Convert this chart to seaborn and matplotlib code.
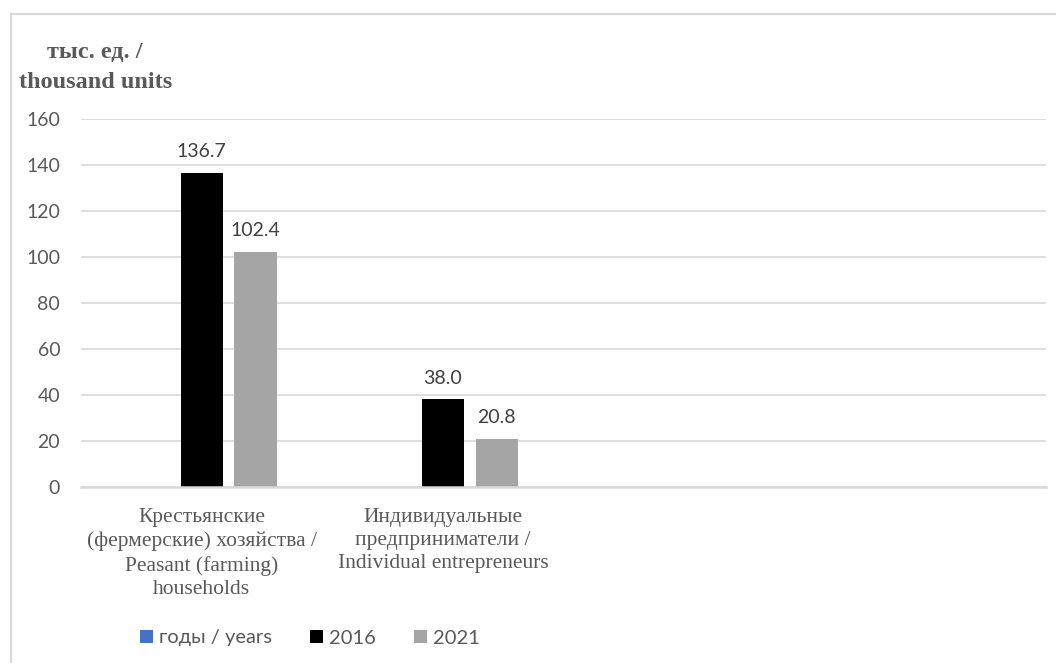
import matplotlib
matplotlib.use("Agg")
import matplotlib.pyplot as plt
import seaborn as sns
import pandas as pd
from matplotlib.lines import Line2D

# Categories (two trailing slots are left empty, as in the source workbook)
categories = [
    "Крестьянские\n(фермерские) хозяйства /\nPeasant (farming)\nhouseholds",
    "Индивидуальные\nпредприниматели /\nIndividual entrepreneurs",
    "",
    " ",
]
series = ["годы / years", "2016", "2021"]
values_years = [0.0, 0.0]
values_2016 = [136.7, 38.0]
values_2021 = [102.4, 20.8]
y_ticks = [0, 20, 40, 60, 80, 100, 120, 140, 160]
colors = ["#4472c4", "#000000", "#a5a5a5"]

filled = categories[:2]
df = pd.DataFrame({
    "category": filled * 3,
    "series": [series[0]] * 2 + [series[1]] * 2 + [series[2]] * 2,
    "value": values_years + values_2016 + values_2021,
})

sns.set_theme(style="white")
SANS = ["Lato", "Open Sans", "DejaVu Sans"]
SERIF = ["Liberation Serif", "DejaVu Serif"]
plt.rcParams["font.family"] = SANS

W, H = 1056, 663
fig = plt.figure(figsize=(W / 100, H / 100), dpi=100)
ax_left, ax_right, ax_top, ax_bottom = 81, 1046, 119.3, 486.7
ax = fig.add_axes([ax_left / W, 1 - ax_bottom / H,
                   (ax_right - ax_left) / W, (ax_bottom - ax_top) / H])

sns.barplot(data=df, x="category", y="value", hue="series",
            order=categories, hue_order=series, palette=colors,
            saturation=1, width=0.67, gap=0.22, linewidth=0,
            errorbar=None, ax=ax)

ax.set_ylim(0, 160)
ax.set_yticks(y_ticks)
ax.set_yticklabels([str(t) for t in y_ticks])
ax.set_xlabel("")
ax.set_ylabel("")
ax.yaxis.grid(True, color="#d9d9d9", linewidth=1.2)
ax.set_axisbelow(True)
for side in ("top", "right", "left"):
    ax.spines[side].set_visible(False)
ax.spines["bottom"].set_color("#d9d9d9")
ax.spines["bottom"].set_linewidth(1.8)

ax.tick_params(axis="y", length=0, pad=15, labelsize=14, labelcolor="#595959")
ax.tick_params(axis="x", length=0, pad=15)
for lbl in ax.get_xticklabels():
    lbl.set_fontfamily(SERIF)
    lbl.set_fontsize(15.5)
    lbl.set_color("#595959")
    lbl.set_linespacing(1.32)
    lbl.set_multialignment("center")

# Value labels for the 2016 and 2021 bars
for cont in ax.containers[1:]:
    ax.bar_label(cont, fmt="%.1f", padding=9, fontsize=14, color="#404040")

# Legend below the plot
handles, labels = ax.get_legend_handles_labels()
if ax.legend_ is not None:
    ax.legend_.remove()
fig.legend(handles, labels, loc="center", bbox_to_anchor=(310 / W, 1 - 638 / H),
           ncol=3, frameon=False, fontsize=14.5, labelcolor="#595959",
           handlelength=0.65, handleheight=0.65, handletextpad=0.3,
           columnspacing=1.9)

# Axis title in the top-left corner
fig.text(95 / W, 1 - 58 / H, "тыс. ед. /", ha="center", va="baseline",
         family=SERIF, fontweight="bold", fontsize=17.5, color="#595959")
fig.text(96 / W, 1 - 88 / H, "thousand units", ha="center", va="baseline",
         family=SERIF, fontweight="bold", fontsize=17.5, color="#595959")

# Chart-area frame (top and left edges)
fig.add_artist(Line2D([10.5 / W, 1.0], [1 - 13.5 / H, 1 - 13.5 / H],
                      transform=fig.transFigure, color="#d9d9d9", linewidth=1.5))
fig.add_artist(Line2D([10.5 / W, 10.5 / W], [1 - 13.5 / H, 0.0],
                      transform=fig.transFigure, color="#d9d9d9", linewidth=1.5))

fig.savefig("out.png", dpi=100)
